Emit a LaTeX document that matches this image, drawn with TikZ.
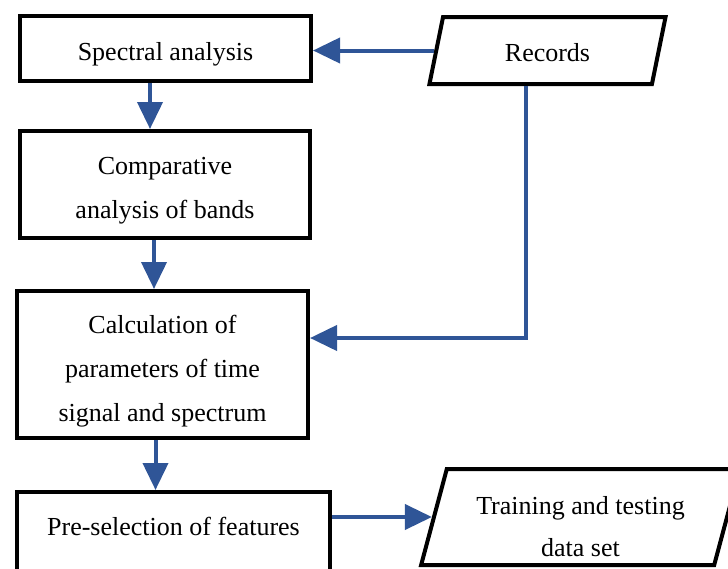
\documentclass[tikz,border=0pt]{standalone}
\usepackage{fontspec}
\setmainfont{Liberation Serif}
\usepackage{tikz}
\usetikzlibrary{positioning, arrows.meta, calc, shapes.geometric}
\definecolor{flowblue}{RGB}{47,85,151}
% invisible strut that makes the first line taller, so the text sits lower
\newcommand{\topstrut}[1]{\rule{0pt}{#1}}

\begin{document}
\begin{tikzpicture}[x=0.5pt,y=-0.5pt]
		\tikzstyle{box} = [draw=black, line width=2pt, inner sep=0, align=center, font=\fontsize{13}{22}\selectfont]
		\tikzstyle{data} = [box, trapezium, trapezium stretches=true, trapezium left angle=76, trapezium right angle=104]
		\tikzstyle{flow} = [-{Triangle[length=13.5pt,width=12.5pt]}, draw=flowblue, line width=2pt]
		\useasboundingbox (0,0) rectangle (728,568);
		\clip (0,0) rectangle (728,568);
		% left column
		\node [box, minimum width=145.5pt, minimum height=32.5pt] (spec) at (165.5,48.5) {\topstrut{14.5pt}Spectral analysis};
		\node [box, minimum width=145pt, minimum height=53.5pt] (comp) at (165,184.5) {\topstrut{14.5pt}Comparative\\analysis of bands};
		\node [box, minimum width=145.5pt, minimum height=73.5pt] (calc) at (162.5,364.5) {\topstrut{16pt}Calculation of\\parameters of time\\signal and spectrum};
		\node [box, minimum width=156.5pt, minimum height=56pt] (select) at (173.5,548) {Pre-selection of features\\\mbox{}};
		% inputs and outputs
		\node [data, minimum width=118.5pt, minimum height=33.5pt] (records) at (547.5,50.5) {\topstrut{11pt}Records};
		\node [data, minimum width=159.5pt, minimum height=48pt] (train) at (580.5,517) {\topstrut{19pt}Training and testing\\[-1pt]data set};
		% arrows
		\draw [flow] (records.west) -- (records.west -| spec.east);
		\draw [flow] ([xshift=-7.75pt]spec.south) -- ([xshift=-7.5pt]comp.north);
		\draw [flow] ([xshift=-5.5pt]comp.south) -- ([xshift=-4.25pt]calc.north);
		\draw [flow] ([xshift=-3.5pt]calc.south) -- ([xshift=-9pt]select.north);
		\draw [flow] ([xshift=-10.75pt]records.south) |- ([yshift=13.25pt]calc.east);
		\draw [flow] (select.east |- train.west) -- (train.west);
\end{tikzpicture}
\end{document}
